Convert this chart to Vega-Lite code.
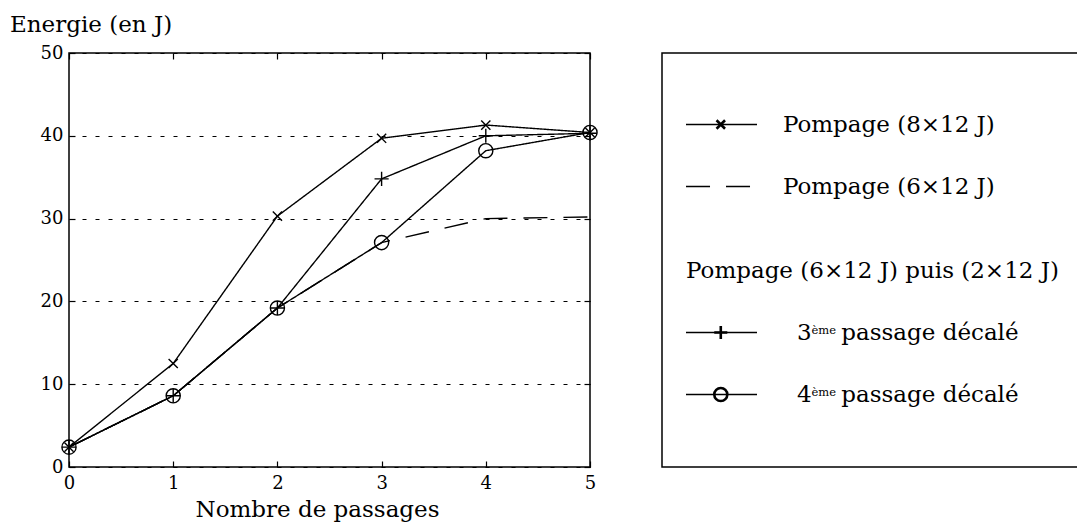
{
  "$schema": "https://vega.github.io/schema/vega-lite/v6.json",
  "padding": {"left": 8, "top": 12, "right": 0, "bottom": 0},
  "background": "white",
  "config": {
    "font": "DejaVu Serif",
    "view": {"stroke": "black", "strokeWidth": 1.5},
    "axis": {
      "domain": false,
      "tickColor": "black",
      "tickWidth": 1.2,
      "labelColor": "black",
      "titleColor": "black",
      "labelFont": "DejaVu Serif",
      "titleFont": "DejaVu Serif",
      "titleFontWeight": "normal",
      "labelFontSize": 18,
      "titleFontSize": 23,
      "labelFlush": false,
      "minExtent": 0
    }
  },
  "spacing": 60,
  "hconcat": [
    {
      "width": 521,
      "height": 414,
      "data": {
        "values": [
          {"passages": 0, "energie": 2.4, "serie": "Pompage (8×12 J)"},
          {"passages": 1, "energie": 12.5, "serie": "Pompage (8×12 J)"},
          {"passages": 2, "energie": 30.3, "serie": "Pompage (8×12 J)"},
          {"passages": 3, "energie": 39.7, "serie": "Pompage (8×12 J)"},
          {"passages": 4, "energie": 41.3, "serie": "Pompage (8×12 J)"},
          {"passages": 5, "energie": 40.4, "serie": "Pompage (8×12 J)"},
          {"passages": 0, "energie": 2.4, "serie": "Pompage (6×12 J)"},
          {"passages": 1, "energie": 8.6, "serie": "Pompage (6×12 J)"},
          {"passages": 2, "energie": 19.2, "serie": "Pompage (6×12 J)"},
          {"passages": 3, "energie": 27.1, "serie": "Pompage (6×12 J)"},
          {"passages": 4, "energie": 30.0, "serie": "Pompage (6×12 J)"},
          {"passages": 5, "energie": 30.2, "serie": "Pompage (6×12 J)"},
          {"passages": 0, "energie": 2.4, "serie": "3ème passage décalé"},
          {"passages": 1, "energie": 8.6, "serie": "3ème passage décalé"},
          {"passages": 2, "energie": 19.2, "serie": "3ème passage décalé"},
          {"passages": 3, "energie": 34.8, "serie": "3ème passage décalé"},
          {"passages": 4, "energie": 40.0, "serie": "3ème passage décalé"},
          {"passages": 5, "energie": 40.3, "serie": "3ème passage décalé"},
          {"passages": 0, "energie": 2.4, "serie": "4ème passage décalé"},
          {"passages": 1, "energie": 8.6, "serie": "4ème passage décalé"},
          {"passages": 2, "energie": 19.2, "serie": "4ème passage décalé"},
          {"passages": 3, "energie": 27.1, "serie": "4ème passage décalé"},
          {"passages": 4, "energie": 38.2, "serie": "4ème passage décalé"},
          {"passages": 5, "energie": 40.4, "serie": "4ème passage décalé"}
        ]
      },
      "layer": [
        {
          "mark": {"type": "line", "color": "black", "strokeWidth": 1.4},
          "encoding": {
            "x": {
              "field": "passages", "type": "quantitative",
              "scale": {"domain": [0, 5], "nice": false, "zero": false},
              "axis": {
                "title": "Nombre de passages",
                "values": [0, 1, 2, 3, 4, 5],
                "grid": false,
                "tickSize": -6,
                "labelPadding": 13,
                "titlePadding": 6,
                "titleX": 248,
                "titleAlign": "center"
              }
            },
            "y": {
              "field": "energie", "type": "quantitative",
              "scale": {"domain": [0, 50], "nice": false},
              "axis": {
                "title": "Energie (en J)",
                "values": [0, 10, 20, 30, 40, 50],
                "grid": true,
                "gridDash": [4, 9],
                "gridColor": "black",
                "gridWidth": 1,
                "gridOpacity": 1,
                "tickSize": -6,
                "labelPadding": 12,
                "titleAngle": 0,
                "titleAlign": "left",
                "titleBaseline": "alphabetic",
                "titleX": -59.5,
                "titleY": -22
              }
            },
            "strokeDash": {
              "field": "serie", "type": "nominal",
              "scale": {
                "domain": ["Pompage (8×12 J)", "Pompage (6×12 J)", "3ème passage décalé", "4ème passage décalé"],
                "range": [[1, 0], [24, 16], [1, 0], [1, 0]]
              },
              "legend": null
            }
          }
        },
        {
          "transform": [{"filter": "datum.serie != 'Pompage (6×12 J)'"}],
          "mark": {"type": "point", "filled": false, "color": "black", "strokeWidth": 1.4, "size": 200, "opacity": 1},
          "encoding": {
            "x": {
              "field": "passages", "type": "quantitative",
              "axis": {"orient": "top", "labels": false, "title": null, "grid": false, "tickSize": -6, "values": [0, 1, 2, 3, 4, 5]}
            },
            "y": {
              "field": "energie", "type": "quantitative",
              "axis": {"orient": "right", "labels": false, "title": null, "grid": false, "tickSize": -6, "values": [0, 10, 20, 30, 40, 50]}
            },
            "shape": {
              "field": "serie", "type": "nominal",
              "scale": {
                "domain": ["Pompage (8×12 J)", "3ème passage décalé", "4ème passage décalé"],
                "range": ["M-0.65,-0.65L0.65,0.65M-0.65,0.65L0.65,-0.65", "M-1,0H1M0,-1V1", "circle"]
              },
              "legend": null
            }
          }
        }
      ],
      "resolve": {"axis": {"x": "independent", "y": "independent"}}
    },
    {
      "width": 416,
      "height": 414,
      "data": {
        "values": [
          {"rang": 1, "serie": "Pompage (8×12 J)", "texte": "Pompage (8×12 J)"},
          {"rang": 2, "serie": "Pompage (6×12 J)", "texte": "Pompage (6×12 J)"},
          {"rang": 3, "serie": "entete", "texte": "Pompage (6×12 J) puis (2×12 J)"},
          {"rang": 4, "serie": "3ème passage décalé", "num": "3", "sup": "ème", "texte": "passage décalé"},
          {"rang": 5, "serie": "4ème passage décalé", "num": "4", "sup": "ème", "texte": "passage décalé"}
        ]
      },
      "encoding": {
        "y": {
          "field": "rang", "type": "quantitative",
          "scale": {"domain": [1, 2, 3, 4, 5], "range": [71.5, 133.5, 217.5, 279.5, 341.5]},
          "axis": null
        }
      },
      "layer": [
        {
          "transform": [{"filter": "datum.rang != 3"}],
          "mark": {"type": "rule", "color": "black", "strokeWidth": 1.4},
          "encoding": {
            "x": {"datum": 0.058, "type": "quantitative", "scale": {"domain": [0, 1], "range": [0, 414], "nice": false, "zero": false}, "axis": null},
            "x2": {"datum": 0.2295},
            "strokeDash": {
              "field": "serie", "type": "nominal",
              "scale": {
                "domain": ["Pompage (8×12 J)", "Pompage (6×12 J)", "3ème passage décalé", "4ème passage décalé"],
                "range": [[1, 0], [28, 15], [1, 0], [1, 0]]
              },
              "legend": null
            }
          }
        },
        {
          "transform": [{"filter": "datum.rang != 3 && datum.rang != 2"}],
          "mark": {"type": "point", "filled": false, "color": "black", "strokeWidth": 2.6, "size": 170, "opacity": 1},
          "encoding": {
            "x": {"datum": 0.142, "type": "quantitative"},
            "shape": {
              "field": "serie", "type": "nominal",
              "scale": {
                "domain": ["Pompage (8×12 J)", "3ème passage décalé", "4ème passage décalé"],
                "range": ["M-0.6,-0.6L0.6,0.6M-0.6,0.6L0.6,-0.6", "M-1,0H1M0,-1V1", "circle"]
              },
              "legend": null
            }
          }
        },
        {
          "transform": [{"filter": "datum.rang <= 2"}],
          "mark": {"type": "text", "align": "left", "baseline": "alphabetic", "dy": 7, "fontSize": 23, "color": "black"},
          "encoding": {
            "x": {"datum": 0.292, "type": "quantitative"},
            "text": {"field": "texte"}
          }
        },
        {
          "transform": [{"filter": "datum.rang == 3"}],
          "mark": {"type": "text", "align": "left", "baseline": "alphabetic", "dy": 7, "fontSize": 23, "color": "black"},
          "encoding": {
            "x": {"datum": 0.058, "type": "quantitative"},
            "text": {"field": "texte"}
          }
        },
        {
          "transform": [{"filter": "datum.rang >= 4"}],
          "mark": {"type": "text", "align": "left", "baseline": "alphabetic", "dy": 7, "fontSize": 23, "color": "black"},
          "encoding": {
            "x": {"datum": 0.326, "type": "quantitative"},
            "text": {"field": "num"}
          }
        },
        {
          "transform": [{"filter": "datum.rang >= 4"}],
          "mark": {"type": "text", "align": "left", "baseline": "alphabetic", "dy": 1, "fontSize": 11.5, "color": "black"},
          "encoding": {
            "x": {"datum": 0.361, "type": "quantitative"},
            "text": {"field": "sup"}
          }
        },
        {
          "transform": [{"filter": "datum.rang >= 4"}],
          "mark": {"type": "text", "align": "left", "baseline": "alphabetic", "dy": 7, "fontSize": 23, "color": "black"},
          "encoding": {
            "x": {"datum": 0.433, "type": "quantitative"},
            "text": {"field": "texte"}
          }
        }
      ]
    }
  ]
}
